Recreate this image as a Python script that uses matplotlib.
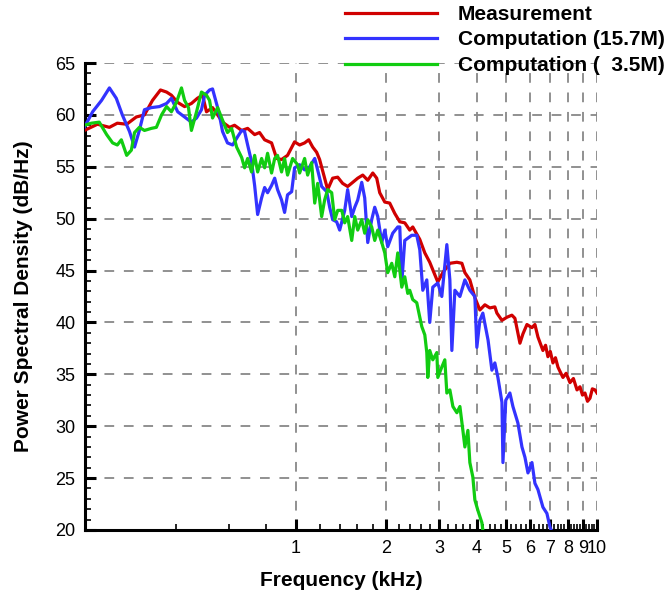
import matplotlib
matplotlib.use("Agg")
import matplotlib.pyplot as plt
import numpy as np

plt.rcParams['font.family'] = ['Liberation Sans', 'DejaVu Sans']
plt.rcParams['lines.scale_dashes'] = False

# ---------------- data (frequency in kHz, PSD in dB/Hz) ----------------
meas_f = [0.199, 0.220, 0.241, 0.256, 0.275, 0.296, 0.315, 0.335, 0.356, 0.373,
          0.387, 0.406, 0.428, 0.451, 0.472, 0.491, 0.506, 0.530, 0.551, 0.572,
          0.604, 0.627, 0.662, 0.693, 0.731, 0.759, 0.789, 0.832, 0.865, 0.898,
          0.940, 0.992, 1.031, 1.071, 1.105, 1.139, 1.174, 1.201, 1.248, 1.277,
          1.327, 1.379, 1.432, 1.488, 1.547, 1.607, 1.670, 1.735, 1.803, 1.858,
          1.901, 1.976, 2.052, 2.133, 2.216, 2.302, 2.391, 2.447, 2.582, 2.683,
          2.786, 2.896, 2.963, 3.078, 3.249, 3.428, 3.562, 3.644, 3.785, 3.933,
          4.086, 4.246, 4.410, 4.582, 4.654, 4.837, 5.023, 5.219, 5.341, 5.550,
          5.679, 5.855, 6.083, 6.223, 6.368, 6.500, 6.615, 6.750, 6.873, 7.000,
          7.142, 7.280, 7.420, 7.560, 7.709, 7.900, 8.134, 8.350, 8.583, 8.781,
          8.950, 9.121, 9.300, 9.478, 9.650, 9.849, 10.0]
meas_db = [58.5, 59.1, 58.8, 59.2, 59.1, 59.8, 60.0, 61.4, 62.4, 62.2,
           61.9, 61.2, 60.8, 61.1, 61.6, 61.9, 60.3, 60.7, 60.0, 59.3,
           58.8, 59.0, 58.5, 58.7, 58.1, 58.3, 57.6, 57.3, 55.8, 55.7,
           56.1, 57.4, 57.1, 57.3, 57.6, 56.9, 56.4, 55.7, 53.9, 52.8,
           53.9, 54.0, 53.4, 53.1, 53.5, 53.9, 54.2, 53.7, 54.4, 53.9,
           52.5, 51.6, 51.5, 50.5, 49.7, 49.6, 48.9, 49.2, 48.0, 46.7,
           45.8, 44.6, 43.9, 44.8, 45.7, 45.8, 45.7, 44.8, 44.1, 42.4,
           41.2, 41.7, 41.4, 41.5, 40.9, 40.2, 40.5, 40.7, 40.4, 38.0,
           38.9, 39.8, 39.5, 39.8, 38.6, 37.9, 37.3, 37.8, 36.7, 37.2,
           36.1, 36.6, 35.7, 35.2, 34.7, 35.1, 34.2, 34.6, 33.5, 33.8,
           33.0, 33.2, 32.4, 32.7, 33.6, 33.5, 33.2]

comp157_f = [0.199, 0.212, 0.227, 0.241, 0.254, 0.266, 0.281, 0.292, 0.303, 0.315,
             0.332, 0.353, 0.373, 0.387, 0.406, 0.428, 0.451, 0.469, 0.487, 0.499,
             0.518, 0.530, 0.551, 0.560, 0.572, 0.594, 0.618, 0.642, 0.662, 0.677,
             0.693, 0.714, 0.731, 0.748, 0.771, 0.789, 0.807, 0.832, 0.852, 0.871,
             0.898, 0.919, 0.940, 0.970, 0.992, 1.031, 1.071, 1.113, 1.157, 1.183,
             1.220, 1.268, 1.297, 1.327, 1.368, 1.400, 1.455, 1.488, 1.535, 1.571,
             1.607, 1.657, 1.695, 1.735, 1.788, 1.830, 1.873, 1.931, 1.976, 2.021,
             2.100, 2.182, 2.216, 2.250, 2.302, 2.428, 2.523, 2.582, 2.642, 2.724,
             2.786, 2.852, 2.963, 3.055, 3.175, 3.249, 3.299, 3.376, 3.508, 3.644,
             3.785, 3.933, 3.993, 4.086, 4.180, 4.350, 4.480, 4.582, 4.690, 4.837,
             4.874, 4.980, 5.140, 5.260, 5.465, 5.636, 5.767, 5.901, 6.083, 6.223,
             6.368, 6.615, 6.820, 6.980, 7.142]
comp157_db = [58.8, 60.3, 61.4, 62.6, 61.6, 60.0, 58.4, 56.9, 58.5, 60.5,
              60.7, 60.8, 61.1, 61.6, 60.3, 59.8, 59.3, 59.7, 60.5, 61.9,
              62.4, 62.5, 60.7, 59.8, 58.4, 57.3, 57.1, 57.9, 58.5, 58.4,
              57.1, 55.5, 53.2, 50.4, 52.0, 53.0, 52.5, 53.2, 53.9, 52.8,
              51.8, 50.6, 52.3, 52.6, 54.9, 55.2, 54.7, 55.0, 55.8, 54.7,
              53.1, 52.6, 51.1, 49.9, 49.7, 48.9, 50.8, 52.8, 50.2, 51.1,
              51.8, 53.5, 52.0, 47.7, 49.9, 51.1, 50.2, 47.7, 48.9, 47.3,
              48.6, 49.2, 49.2, 43.8, 47.9, 48.4, 48.4, 47.0, 43.1, 44.1,
              40.0, 43.4, 43.8, 42.5, 47.5, 44.1, 37.3, 43.1, 42.5, 44.1,
              43.1, 42.5, 37.6, 40.2, 40.9, 38.3, 35.4, 36.1, 34.7, 32.3,
              26.5, 32.5, 33.2, 31.9, 30.3, 28.0, 27.0, 25.5, 26.5, 24.5,
              23.9, 22.2, 21.6, 20.3, 19.5]

comp35_f = [0.199, 0.210, 0.223, 0.236, 0.247, 0.256, 0.264, 0.275, 0.285, 0.292,
            0.303, 0.315, 0.332, 0.345, 0.359, 0.373, 0.387, 0.402, 0.418, 0.428,
            0.441, 0.451, 0.469, 0.487, 0.506, 0.518, 0.530, 0.551, 0.572, 0.594,
            0.613, 0.637, 0.662, 0.677, 0.693, 0.714, 0.731, 0.748, 0.771, 0.789,
            0.807, 0.832, 0.852, 0.871, 0.898, 0.919, 0.940, 0.977, 1.015, 1.031,
            1.071, 1.096, 1.130, 1.157, 1.183, 1.220, 1.248, 1.277, 1.317, 1.348,
            1.379, 1.422, 1.455, 1.488, 1.535, 1.571, 1.607, 1.657, 1.695, 1.735,
            1.788, 1.830, 1.873, 1.931, 1.976, 2.021, 2.084, 2.133, 2.182, 2.250,
            2.302, 2.355, 2.391, 2.447, 2.523, 2.582, 2.622, 2.683, 2.724, 2.745,
            2.786, 2.852, 2.941, 2.963, 3.055, 3.126, 3.175, 3.249, 3.325, 3.428,
            3.508, 3.589, 3.644, 3.729, 3.785, 3.873, 3.933, 4.024, 4.150, 4.200]
comp35_db = [59.0, 59.2, 59.3, 58.1, 57.3, 57.1, 57.6, 56.1, 56.6, 58.3,
             58.8, 58.5, 58.7, 58.8, 60.0, 60.8, 60.3, 61.2, 62.6, 61.4,
             60.7, 58.5, 60.3, 62.2, 61.9, 61.4, 59.7, 60.7, 59.5, 58.3,
             58.7, 56.9, 55.9, 54.9, 55.8, 54.5, 56.1, 54.5, 55.8, 54.9,
             56.3, 54.4, 55.8, 56.1, 54.5, 55.8, 54.2, 55.8, 55.2, 54.4,
             55.8, 54.2, 55.4, 51.5, 53.4, 50.2, 51.8, 52.8, 52.5, 49.9,
             50.8, 50.8, 49.6, 50.2, 47.9, 50.2, 48.9, 49.9, 48.6, 49.9,
             49.2, 47.9, 48.9, 47.7, 46.7, 44.8, 45.7, 44.4, 46.7, 43.4,
             44.4, 42.8, 43.1, 42.2, 41.9, 40.5, 39.6, 38.8, 37.1, 34.7,
             37.3, 36.4, 37.1, 34.7, 35.7, 36.4, 33.2, 33.5, 31.9, 31.3,
             31.9, 29.6, 28.0, 29.6, 26.5, 25.1, 22.9, 21.9, 20.7, 19.5]

series_labels = ["Measurement", "Computation (15.7M)", "Computation (  3.5M)"]
series_colors = ["#d00000", "#3333ff", "#11cc11"]

x_major = [1, 2, 3, 4, 5, 6, 7, 8, 9, 10]
x_major_labels = ["1", "2", "3", "4", "5", "6", "7", "8", "9", "10"]
y_major = [20, 25, 30, 35, 40, 45, 50, 55, 60, 65]

# ---------------- figure ----------------
W, H = 670, 593
fig = plt.figure(figsize=(W / 100, H / 100), dpi=100)
ax = fig.add_axes([85 / W, 1 - 530 / H, (597 - 85) / W, (530 - 63) / H])

handles = []
for f, v, lab, c in zip([meas_f, comp157_f, comp35_f],
                        [meas_db, comp157_db, comp35_db],
                        series_labels, series_colors):
    h, = ax.plot(f, v, color=c, lw=2.3, label=lab, zorder=3)
    handles.append(h)

ax.set_xscale('log')
ax.set_xlim(0.2, 10)
ax.set_ylim(20, 65)

ax.set_xticks(x_major)
ax.set_xticklabels(x_major_labels)
minor_x = [0.4, 0.6, 0.8] + [round(m + k * 0.2, 1) for m in range(1, 10) for k in range(1, 5)]
ax.set_xticks(minor_x, minor=True)
ax.xaxis.set_minor_formatter(plt.NullFormatter())
ax.set_yticks(y_major)
ax.set_yticks(np.arange(20, 66, 1), minor=True)

ax.tick_params(which='major', direction='in', length=8, width=2.2, labelsize=13, pad=7, color='black')
ax.tick_params(which='minor', direction='in', length=4.5, width=1.2, color='black')

for s in ['top', 'right']:
    ax.spines[s].set_visible(False)
for s in ['left', 'bottom']:
    ax.spines[s].set_linewidth(2.2)

ax.grid(True, which='major', color='#888888', lw=1.3, linestyle=(0, (7, 7)), zorder=1)
ax.set_axisbelow(True)

ax.set_xlabel("Frequency (kHz)", fontsize=15, fontweight='bold', labelpad=10)
ax.set_ylabel("Power Spectral Density (dB/Hz)", fontsize=15, fontweight='bold', labelpad=16)

leg = fig.legend(handles, series_labels, loc='center left',
                 bbox_to_anchor=(345 / W, 1 - 40 / H), frameon=False,
                 prop={'weight': 'bold', 'size': 15},
                 handlelength=4.4, handletextpad=1.0, labelspacing=0.32,
                 borderpad=0, borderaxespad=0)

fig.savefig("out.png", dpi=100)
